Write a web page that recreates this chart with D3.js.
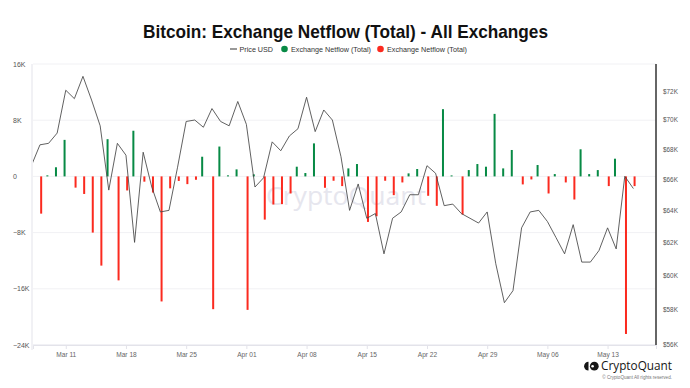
<!DOCTYPE html>
<html lang="en">
<head>
<meta charset="utf-8">
<title>Bitcoin: Exchange Netflow (Total)</title>
<script src="https://cdn.jsdelivr.net/npm/d3@7"></script>
<style>
  body { margin: 0; background: #fff; }
  svg { display: block; font-family: "Liberation Sans", Arial, sans-serif; }
</style>
</head>
<body>
<svg id="chart"></svg>
<script>
// daily values, 2024
const days = [
  "03-07","03-08","03-09","03-10","03-11","03-12","03-13","03-14","03-15","03-16","03-17","03-18","03-19",
  "03-20","03-21","03-22","03-23","03-24","03-25","03-26","03-27","03-28","03-29","03-30","03-31",
  "04-01","04-02","04-03","04-04","04-05","04-06","04-07","04-08","04-09","04-10","04-11","04-12","04-13",
  "04-14","04-15","04-16","04-17","04-18","04-19","04-20","04-21","04-22","04-23","04-24","04-25","04-26",
  "04-27","04-28","04-29","04-30",
  "05-01","05-02","05-03","05-04","05-05","05-06","05-07","05-08","05-09","05-10","05-11","05-12","05-13",
  "05-14","05-15","05-16"
];
const priceUsd = [
  66900, 68300, 68400, 69100, 72100, 71500, 73100, 71400, 69600, 65300, 68400, 67600, 62000,
  67800, 65500, 63900, 64000, 66800, 69900, 70000, 69500, 70800, 69900, 69600, 71300,
  69700, 65500, 66100, 68500, 67900, 68900, 69400, 71600, 69200, 70700, 70000, 67500, 64000,
  65700, 63500, 63800, 61300, 63500, 63900, 65000, 65000, 66900, 66400, 64300, 64400, 63800,
  63500, 63200, 63900, 60700,
  58400, 59100, 62900, 63900, 64000, 63300, 62300, 61300, 63100, 60800, 60800, 61500, 62900,
  61600, 66200, 65400
];
const netflow = [
  null, -5300, 150, 1300, 5200, -1600, -2500, -8000, -12700, 5300, -14800, -2000, 6500,
  -750, -2300, -17800, -1700, -650, -1100, -480, 2800, -18900, 4250, 150, 1000,
  -19000, 290, -6150, -4000, -3950, -2430, 1380, 480, 4700, -1620, -620, -1380, 1140,
  1760, -6480, -5670, -620, -2670, -860, 430, 1050, -2760, -4190, 9570, 140, -5430,
  900, 1760, 1380, 8900,
  1140, 3760, -1140, -430, 1620, -2430, 330, -860, -3290, 3860, 330, 900, -1380,
  2520, -22430, -1380
];
const flowTicks = [-24000, -16000, -8000, 0, 8000, 16000];
const priceTicks = [56000, 58000, 60000, 62000, 64000, 66000, 68000, 70000, 72000];
const dateTicks = ["03-11","03-18","03-25","04-01","04-08","04-15","04-22","04-29","05-06","05-13"];

const width = 690, height = 388;
const plot = {left: 33, right: 656, top: 64, bottom: 345};
const green = "#078a45", red = "#fb2a1f";

const parse = s => d3.utcParse("%Y-%m-%d")("2024-" + s);
const data = days.map((d, i) => ({date: parse(d), price: priceUsd[i], flow: netflow[i]}));

const svg = d3.select("#chart").attr("width", width).attr("height", height);

const day = 864e5, mar11 = parse("03-11");
let x = d3.scaleUtc()
        .domain([new Date(+mar11 - 3.81 * day), new Date(+mar11 + 68.63 * day)])
        .range([plot.left, plot.right]);
let yFlow = d3.scaleLinear().domain([-24000, 16000]).range([plot.bottom, plot.top]);
let yPrice = d3.scaleLog().domain([56000, 74000]).range([plot.bottom, plot.top]);

// title + legend
svg.append("text")
        .attr("x", 345.5).attr("y", 38)
        .attr("text-anchor", "middle")
        .attr("font-size", 19).attr("font-weight", "bold").attr("fill", "#111")
        .attr("textLength", 405).attr("lengthAdjust", "spacingAndGlyphs")
        .text("Bitcoin: Exchange Netflow (Total) - All Exchanges");

let legend = svg.append("g").attr("font-size", 7.2).attr("fill", "#333");
legend.append("line").attr("x1", 230).attr("x2", 237).attr("y1", 49).attr("y2", 49)
        .attr("stroke", "#777").attr("stroke-width", 1.5);
legend.append("text").attr("x", 239.5).attr("y", 51.5).text("Price USD");
legend.append("circle").attr("cx", 284.5).attr("cy", 49).attr("r", 3.3).attr("fill", green);
legend.append("text").attr("x", 291).attr("y", 51.5).text("Exchange Netflow (Total)");
legend.append("circle").attr("cx", 380.5).attr("cy", 49).attr("r", 3.3).attr("fill", red);
legend.append("text").attr("x", 387).attr("y", 51.5).text("Exchange Netflow (Total)");

// grid
svg.append("g").selectAll("line")
        .data(flowTicks)
        .enter().append("line")
        .attr("x1", plot.left).attr("x2", plot.right)
        .attr("y1", d => yFlow(d)).attr("y2", d => yFlow(d))
        .attr("stroke", d => d === -24000 ? "#e3e3ea" : "#f1f1f4");

svg.append("line")
        .attr("x1", plot.left - 1).attr("x2", plot.left - 1)
        .attr("y1", plot.top).attr("y2", plot.bottom + 5)
        .attr("stroke", "#e3e3ea");

// watermark
svg.append("text")
        .attr("x", 266).attr("y", 205)
        .attr("textLength", 160).attr("lengthAdjust", "spacingAndGlyphs")
        .attr("font-size", 25).attr("fill", "#e6e6ee")
        .attr("font-family", "'Open Sans', sans-serif")
        .text("CryptoQuant");

// x axis
let xAxis = svg.append("g").attr("transform", `translate(0,${plot.bottom})`)
        .call(d3.axisBottom(x)
                .tickValues(dateTicks.map(parse))
                .tickFormat(d3.utcFormat("%b %d"))
                .tickSize(4).tickPadding(3));
xAxis.select(".domain").attr("stroke", "#e3e3ea");
xAxis.selectAll(".tick line").attr("stroke", "#e3e3ea");
xAxis.selectAll("text").attr("font-size", 6.6).attr("fill", "#666")
        .attr("font-family", "'Liberation Sans', Arial, sans-serif");

// left labels
svg.append("g").selectAll("text")
        .data(flowTicks)
        .enter().append("text")
        .attr("x", 13).attr("y", d => yFlow(d) + 2.5)
        .attr("font-size", 7).attr("fill", "#555")
        .text(d => d === 0 ? "0" : d3.format("d")(d / 1000) + "K");

// right axis
svg.append("line")
        .attr("x1", plot.right).attr("x2", plot.right)
        .attr("y1", plot.top).attr("y2", plot.bottom)
        .attr("stroke", "#333").attr("stroke-width", 1.5);
svg.append("g").selectAll("text")
        .data(priceTicks)
        .enter().append("text")
        .attr("x", 663).attr("y", d => yPrice(d) + 2.3)
        .attr("font-size", 6.4).attr("fill", "#555")
        .text(d => "$" + d / 1000 + "K");

// bars
let bars = data.filter(d => d.flow !== null);
svg.append("g").attr("id", "bars")
        .selectAll("rect")
        .data(bars)
        .enter().append("rect")
        .attr("x", d => x(d.date) + (d.flow >= 0 ? -1.2 : 1.2) - 1)
        .attr("width", 2)
        .attr("y", d => Math.min(yFlow(d.flow), yFlow(0)))
        .attr("height", d => Math.abs(yFlow(d.flow) - yFlow(0)))
        .attr("fill", d => d.flow >= 0 ? green : red);

// price line
svg.append("clipPath").attr("id", "clip")
        .append("rect")
        .attr("x", plot.left).attr("y", plot.top)
        .attr("width", plot.right - plot.left).attr("height", plot.bottom - plot.top);

let line = d3.line().x(d => x(d.date)).y(d => yPrice(d.price));
svg.append("path")
        .datum(data)
        .attr("clip-path", "url(#clip)")
        .attr("fill", "none")
        .attr("stroke", "#444").attr("stroke-width", 0.85)
        .attr("d", line);

// footer logo
let logo = svg.append("g").attr("fill", "#161616");
logo.append("path").attr("d", "M588.5,361.8 A4.4,4.4 0 0 0 588.5,370.6 Z");
logo.append("circle").attr("cx", 594.3).attr("cy", 366.2).attr("r", 4.4);
logo.append("circle").attr("cx", 592.6).attr("cy", 366.2).attr("r", 1.3).attr("fill", "#fff");
logo.append("text").attr("x", 601).attr("y", 370.3)
        .attr("font-size", 11.8).attr("font-family", "'Open Sans', sans-serif")
        .attr("textLength", 71).attr("lengthAdjust", "spacingAndGlyphs")
        .text("CryptoQuant");
svg.append("text").attr("x", 672).attr("y", 378.5).attr("text-anchor", "end")
        .attr("font-size", 4.6).attr("fill", "#777")
        .text("© CryptoQuant All rights reserved.");
</script>
</body>
</html>
